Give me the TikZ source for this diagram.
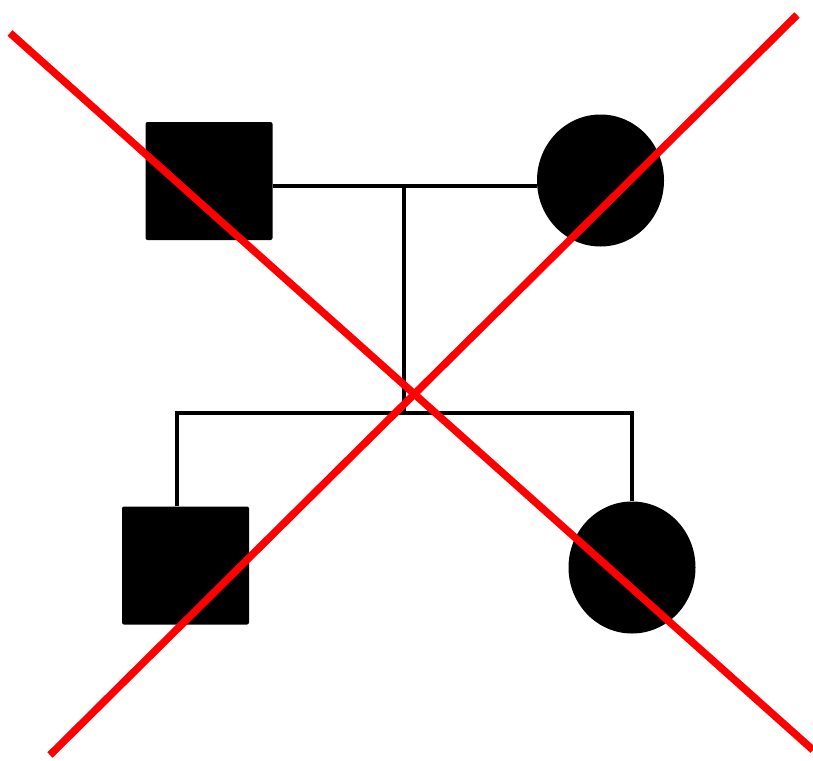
\documentclass[tikz,border=0pt]{standalone}
\usetikzlibrary{shapes.geometric}
\begin{document}
\begin{tikzpicture}[x=1pt,y=-1pt,
  male/.style={rectangle,fill=black,rounded corners=2pt,minimum width=127pt,minimum height=118pt,inner sep=0pt},
  female/.style={ellipse,fill=black,minimum width=127pt,minimum height=132pt,inner sep=0pt},
  link/.style={line width=4.5pt},
  cross/.style={red,line width=7.5pt}]
\useasboundingbox (0,0) rectangle (813,760);
\node[male] (father) at (209,181) {};
\node[female] (mother) at (600.5,180.5) {};
\node[male] (son) at (185.5,565.5) {};
\node[female] (daughter) at (632,567.5) {};
\coordinate (mate) at (404,186);
\coordinate (sibs) at (404,413);
\coordinate (sonup) at (177,413);
\coordinate (daughterup) at (632,413);
\draw[link] (father.east |- mate) -- (mother.west |- mate);
\draw[link] (mate) -- (sibs);
\draw[link] (son.north -| sonup) -- (sonup) -- (daughterup) -- (daughter.north);
% crossed out
\coordinate (a1) at (10,33);
\coordinate (a2) at (813,750);
\coordinate (b1) at (797,15);
\coordinate (b2) at (50,755);
\draw[cross] (a1) -- (a2);
\draw[cross] (b1) -- (b2);
\end{tikzpicture}
\end{document}
